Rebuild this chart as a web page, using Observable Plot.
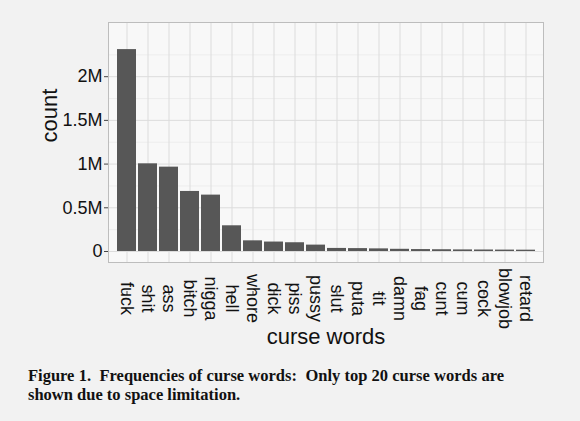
<!DOCTYPE html>
<html>
<head>
<meta charset="utf-8">
<script src="https://cdn.jsdelivr.net/npm/d3@7"></script>
<script src="https://cdn.jsdelivr.net/npm/@observablehq/plot@0.6"></script>
<style>
  html, body { margin: 0; padding: 0; background: #f2f2f2; }
  #wrap { position: relative; width: 580px; height: 421px; overflow: hidden; }
  #caption {
    position: absolute; left: 28px; top: 366px; width: 476px;
    font-family: "Liberation Serif", "Times New Roman", serif;
    font-weight: bold; font-size: 16.5px; line-height: 19px;
    text-align: justify; color: #111;
  }
</style>
</head>
<body>
<div id="wrap"><div id="chart"></div><div id="caption">Figure 1.&nbsp; Frequencies of curse words:&nbsp; Only top 20 curse words are shown due to space limitation.</div></div>
<script>
const words = ["fuck","shit","ass","bitch","nigga","hell","whore","dick","piss","pussy","slut","puta","tit","damn","fag","cunt","cum","cock","blowjob","retard"];
const counts = [2310000,1003000,965000,687000,645000,294000,122000,108000,100000,73000,35000,33000,30000,25000,22000,20000,18000,17000,16000,15000];
const yTicks = [0,500000,1000000,1500000,2000000];
const yTickLabels = ["0","0.5M","1M","1.5M","2M"];
const yMinor = [250000,750000,1250000,1750000,2250000];
const xTitle = "curse words";
const yTitle = "count";

const data = words.map((w, i) => ({word: w, count: counts[i]}));
const font = "Liberation Sans, Arial, Helvetica, sans-serif";

const chart = Plot.plot({
  width: 580,
  height: 360,
  marginLeft: 108,
  marginRight: 37,
  marginTop: 22,
  marginBottom: 98,
  style: {background: "transparent", fontFamily: font, color: "#111"},
  x: {type: "band", domain: words, paddingInner: 0.1, paddingOuter: 0.15, label: null},
  y: {domain: [-126000, 2620000], label: null},
  marks: [
    Plot.frame({fill: "#f8f8f8", stroke: "none"}),
    Plot.gridY(yMinor, {stroke: "#e6e6e6", strokeOpacity: 1, strokeWidth: 0.6}),
    Plot.gridY(yTicks, {stroke: "#dcdcdc", strokeOpacity: 1, strokeWidth: 1}),
    Plot.gridX(words, {stroke: "#dcdcdc", strokeOpacity: 1, strokeWidth: 1}),
    Plot.barY(data, {x: "word", y: "count", fill: "#575757"}),
    Plot.frame({stroke: "#bdbdbd", strokeWidth: 1}),
    Plot.axisY(yTicks, {tickSize: 4, tickPadding: 2, fontSize: 18, stroke: "#444", fill: "#111",
      tickFormat: (d) => yTickLabels[yTicks.indexOf(d)], label: null}),
    Plot.axisX(words, {tickSize: 4, tickPadding: 3, fontSize: 18, tickRotate: 90, textAnchor: "middle",
      dy: 29, stroke: "#444", fill: "#111", label: null}),
    Plot.text([yTitle], {frameAnchor: "left", rotate: -90, dx: -59, fontSize: 22, fill: "#111"}),
    Plot.text([xTitle], {frameAnchor: "bottom", dy: 81, fontSize: 22, fill: "#111"})
  ]
});
document.getElementById("chart").appendChild(chart);
</script>
</body>
</html>
